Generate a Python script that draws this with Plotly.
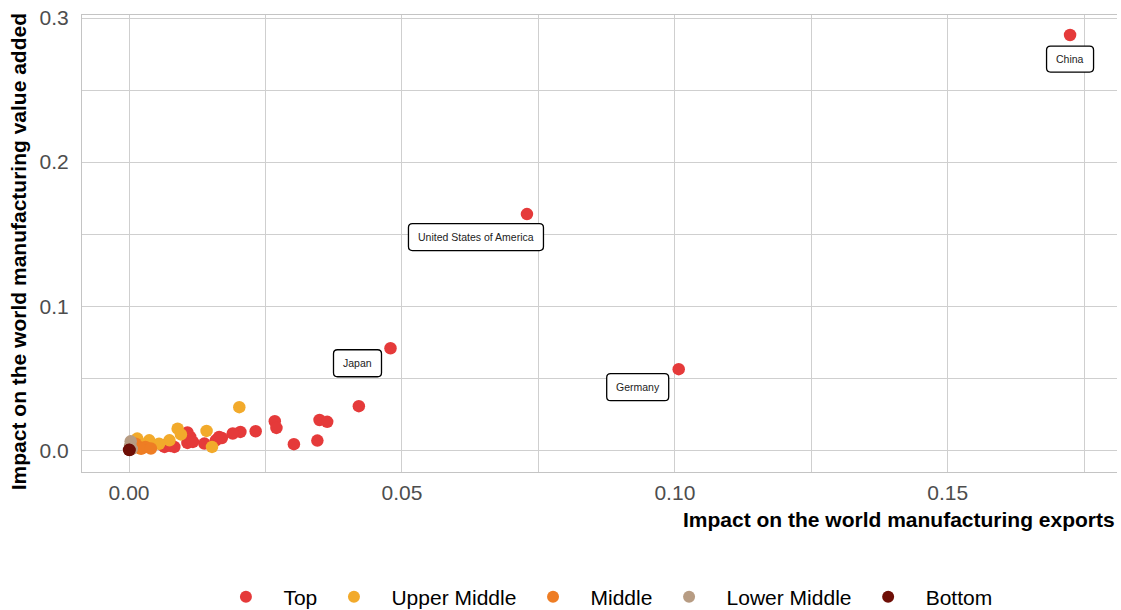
import plotly.graph_objects as go

# ---------------- data ----------------
groups = ["Top", "Upper Middle", "Middle", "Lower Middle", "Bottom"]
colors = ["#E53A3A", "#F2AA2B", "#EE7D24", "#B79C83", "#6E0E06"]

top_x = [0.1724, 0.0729, 0.0479, 0.1007, 0.0421, 0.0349, 0.0363, 0.0345, 0.0302,
         0.0267, 0.0270, 0.0232, 0.0204, 0.0190, 0.0165, 0.0159, 0.0170, 0.0138,
         0.0107, 0.0112, 0.0107, 0.0117, 0.0065, 0.0083, 0.0061, 0.0076]
top_y = [0.2882, 0.1639, 0.0708, 0.0563, 0.0306, 0.0210, 0.0197, 0.0067, 0.0042,
         0.0201, 0.0155, 0.0132, 0.0127, 0.0116, 0.0092, 0.0069, 0.0085, 0.0046,
         0.0123, 0.0092, 0.0051, 0.0058, 0.0023, 0.0023, 0.0035, 0.0030]

upper_x = [0.0202, 0.0142, 0.0152, 0.0089, 0.0095, 0.0074, 0.0037, 0.0043, 0.0015, 0.0025, 0.0055]
upper_y = [0.0299, 0.0134, 0.0023, 0.0150, 0.0110, 0.0069, 0.0069, 0.0035, 0.0081, 0.0040, 0.0045]

middle_x = [0.0018, 0.0030, 0.0012, 0.0022, 0.0008, 0.0040]
middle_y = [0.0023, 0.0023, 0.0045, 0.0010, 0.0015, 0.0012]

lower_x = [0.0003, 0.0002, 0.0005]
lower_y = [0.0062, 0.0030, 0.0010]

bottom_x = [0.0000, 0.0001]
bottom_y = [0.0003, 0.0001]

labels = ["China", "United States of America", "Japan", "Germany"]
label_x = [0.1724, 0.0729, 0.0479, 0.1007]
label_y = [0.2882, 0.1639, 0.0708, 0.0563]

xs = [top_x, upper_x, middle_x, lower_x, bottom_x]
ys = [top_y, upper_y, middle_y, lower_y, bottom_y]

x_ticks = [0.0, 0.05, 0.10, 0.15]
y_ticks = [0.0, 0.1, 0.2, 0.3]

# ---------------- figure ----------------
FONT = "Liberation Sans, Arial, sans-serif"
GRID = "#cfcfcf"
NB = "\u00a0"

fig = go.Figure()
for i, (g, c, x, y) in enumerate(zip(groups, colors, xs, ys)):
    trail = NB * 2 if i < len(groups) - 1 else ""
    fig.add_trace(go.Scatter(
        x=x, y=y, mode="markers", name=NB * 3 + g + trail,
        marker=dict(color=c, size=12.5, line=dict(width=0)),
    ))

# label box styling: pixel offset of box centre from point (right, down) and box size
offsets = [(0, 24), (-51, 23), (-33, 15), (-41, 18)]
box_sizes = [(47, 26), (135, 27), (48, 27), (62, 27)]
R = 4


def rounded_box(cx, cy, w, h, r):
    hw, hh = w / 2, h / 2
    l, rt, t, b = cx - hw, cx + hw, cy + hh, cy - hh
    return (f"M {l + r},{t} L {rt - r},{t} Q {rt},{t} {rt},{t - r} "
            f"L {rt},{b + r} Q {rt},{b} {rt - r},{b} "
            f"L {l + r},{b} Q {l},{b} {l},{b + r} "
            f"L {l},{t - r} Q {l},{t} {l + r},{t} Z")


for name, lx, ly, (ax, ay), (bw, bh) in zip(labels, label_x, label_y, offsets, box_sizes):
    fig.add_shape(
        type="path", xref="x", yref="y", xsizemode="pixel", ysizemode="pixel",
        xanchor=lx, yanchor=ly, path=rounded_box(ax, -ay, bw, bh, R),
        line=dict(color="black", width=1.3), fillcolor="white", layer="above",
    )
    fig.add_annotation(
        x=lx, y=ly, xref="x", yref="y", text=name,
        showarrow=True, arrowcolor="rgba(0,0,0,0)", arrowwidth=0.1,
        ax=ax, ay=ay, axref="pixel", ayref="pixel",
        font=dict(family=FONT, size=10.5, color="#222222"),
        borderpad=0,
    )

# axis titles
fig.add_annotation(
    xref="paper", yref="paper", x=1.0, y=-0.105, xanchor="right", yanchor="middle",
    text="<b>Impact on the world manufacturing exports</b>", showarrow=False,
    font=dict(family=FONT, size=21, color="black"),
)
fig.add_annotation(
    xref="paper", yref="paper", x=-0.0618, y=0.481, xanchor="center", yanchor="middle",
    text="<b>Impact on the world manufacturing value added</b>", showarrow=False,
    textangle=-90, font=dict(family=FONT, size=21, color="black"),
)

fig.update_layout(
    width=1121, height=610,
    margin=dict(l=82, r=4, t=15, b=138, autoexpand=False),
    paper_bgcolor="white", plot_bgcolor="white",
    font=dict(family=FONT, size=21, color="#4d4d4d"),
    showlegend=True, hovermode=False,
    legend=dict(
        orientation="h", x=0.512, y=-0.2735, xanchor="center", yanchor="middle",
        font=dict(family=FONT, size=21, color="black"),
        itemsizing="constant",
    ),
)
fig.update_xaxes(
    range=[-0.00862, 0.181], tickvals=x_ticks, tickformat=".2f",
    showgrid=True, gridcolor=GRID, gridwidth=1,
    minor=dict(dtick=0.025, tick0=0, showgrid=True, gridcolor=GRID, gridwidth=1),
    zeroline=False, showline=True, linecolor="#c4c4c4", linewidth=1, mirror=True,
    ticks="", ticklabelstandoff=2, automargin=False, ticklabeloverflow="allow",
    tickfont=dict(family=FONT, size=21, color="#4d4d4d"),
)
fig.update_yaxes(
    range=[-0.0151, 0.3021], tickvals=y_ticks, tickformat=".1f",
    showgrid=True, gridcolor=GRID, gridwidth=1,
    minor=dict(dtick=0.05, tick0=0, showgrid=True, gridcolor=GRID, gridwidth=1),
    zeroline=False, showline=True, linecolor="#c4c4c4", linewidth=1, mirror=False,
    ticks="", ticklabelstandoff=8, automargin=False, ticklabeloverflow="allow",
    tickfont=dict(family=FONT, size=21, color="#4d4d4d"),
)

# remove the default 8px page margin so the 1121x610 figure fills the window exactly
fig.write_html(
    "out.html",
    config={"displayModeBar": False, "staticPlot": True},
    post_script="document.body.style.margin='0';",
)
